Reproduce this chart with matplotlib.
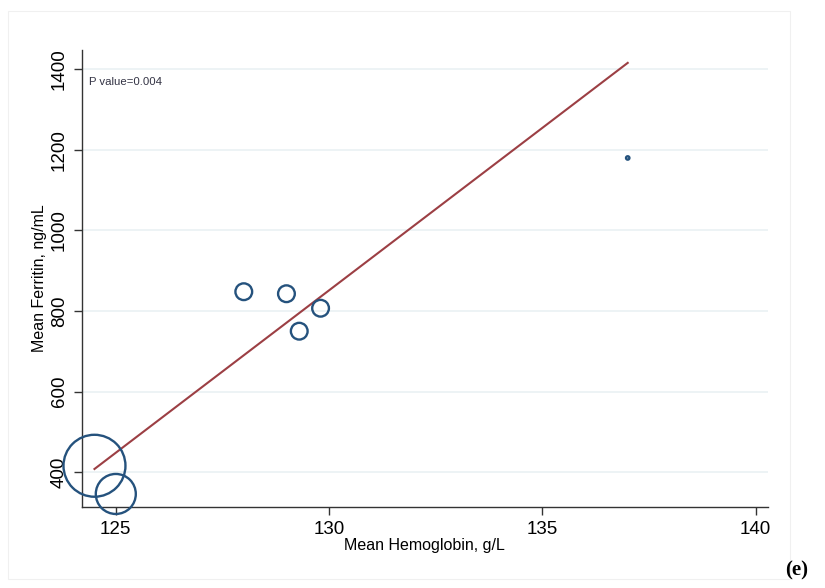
import matplotlib.pyplot as plt
from matplotlib.patches import Rectangle

# values
hemoglobin = [124.5, 125.0, 128.0, 129.0, 129.8, 129.3, 137.0]
ferritin = [416, 346, 848, 843, 807, 750, 1180]
weight = [1990, 830, 145, 145, 145, 145, 6]   # bubble size (marker area)
fit_x = [124.5, 137.0]
fit_y = [408, 1416]
xticks = [125, 130, 135, 140]
yticks = [400, 600, 800, 1000, 1200, 1400]

plt.rcParams['font.family'] = ['Liberation Sans', 'DejaVu Sans']

fig = plt.figure(figsize=(8.25, 5.88), dpi=100)
ax = fig.add_axes([0.099, 0.138, 0.832, 0.777])

# faint outer frame of the graph region
fig.patches.append(Rectangle((8 / 825, 1 - 579 / 588), 782 / 825, 568 / 588,
                             transform=fig.transFigure, fill=False,
                             edgecolor='#f0f0f0', linewidth=0.8))

ax.scatter(hemoglobin, ferritin, s=weight, facecolors='none',
           edgecolors='#25527d', linewidths=1.7, zorder=3, clip_on=False)
ax.plot(fit_x, fit_y, color='#9c3f44', linewidth=1.5, zorder=2)

ax.set_xlim(124.2, 140.29)
ax.set_ylim(314, 1448)
ax.set_xticks(xticks)
ax.set_yticks(yticks)
ax.grid(axis='y', color='#eaf1f3', linewidth=1.2)
ax.set_axisbelow(True)

for s in ['top', 'right']:
    ax.spines[s].set_visible(False)
for s in ['left', 'bottom']:
    ax.spines[s].set_color('#333333')
    ax.spines[s].set_linewidth(1.0)
    ax.spines[s].set_zorder(1)

ax.tick_params(axis='both', length=6, width=1.0, color='#333333',
               labelsize=13.5, pad=4)
plt.setp(ax.get_yticklabels(), rotation=90, va='center')

ax.set_xlabel('Mean Hemoglobin, g/L', fontsize=11.5, labelpad=0)
ax.set_ylabel('Mean Ferritin, ng/mL', fontsize=11.5, labelpad=3)

ax.text(124.38, 1362, 'P value=0.004', fontsize=8.2, color='#333344')

fig.text(0.98, 0.03, '(e)', fontsize=15, fontweight='bold',
         family='Liberation Serif', ha='right', va='center')

plt.savefig('out.png', dpi=100)
